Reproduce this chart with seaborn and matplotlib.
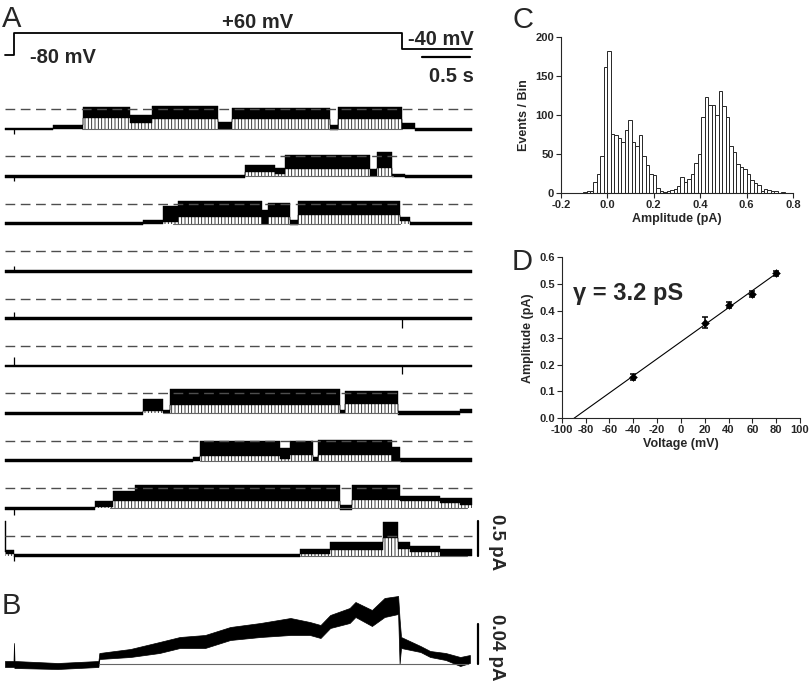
import numpy as np
import pandas as pd
import seaborn as sns
import matplotlib
matplotlib.use("Agg")
from matplotlib import pyplot as plt

# ---------------- data ----------------
# A: voltage protocol (s, mV)
hold_mv, step_mv, tail_mv = -80, 60, -40
step_on, step_off, t_start, t_end = 0.0, 4.0, -0.093, 4.72

# A: single-channel sweeps, each segment = (t start [s], low edge [pA], high edge [pA])
sweep1 = [(-0.093, -0.02, 0.02), (0.40, 0.0, 0.06), (0.71, 0.16, 0.32), (1.20, 0.08, 0.20),
          (1.42, 0.15, 0.33), (2.10, 0.0, 0.10), (2.25, 0.15, 0.30), (3.26, -0.02, 0.06),
          (3.34, 0.15, 0.32), (4.00, 0.0, 0.08), (4.13, -0.03, 0.02)]
sweep2 = [(-0.093, -0.02, 0.02), (2.38, 0.06, 0.17), (2.69, 0.03, 0.12), (2.79, 0.10, 0.30),
          (3.67, 0.0, 0.10), (3.74, 0.12, 0.35), (3.90, -0.01, 0.04), (4.03, -0.02, 0.02)]
sweep3 = [(-0.093, -0.02, 0.02), (1.33, 0.0, 0.06), (1.54, 0.02, 0.25), (1.69, 0.10, 0.33),
          (2.56, 0.0, 0.20), (2.62, 0.10, 0.30), (2.85, -0.02, 0.05), (2.93, 0.12, 0.33),
          (3.98, 0.04, 0.10), (4.08, -0.02, 0.02)]
sweep_flat = [(-0.093, -0.02, 0.02)]
sweep7 = [(-0.093, -0.02, 0.02), (1.33, 0.04, 0.20), (1.54, 0.0, 0.05), (1.61, 0.12, 0.35),
          (3.36, 0.0, 0.05), (3.41, 0.14, 0.32), (3.96, -0.02, 0.03), (4.60, 0.0, 0.06)]
sweep8 = [(-0.093, -0.02, 0.02), (1.85, 0.0, 0.06), (1.92, 0.07, 0.28), (2.74, 0.03, 0.18),
          (2.85, 0.08, 0.28), (3.08, 0.0, 0.06), (3.13, 0.08, 0.30), (3.90, 0.0, 0.20),
          (3.98, -0.01, 0.04)]
sweep9 = [(-0.093, -0.02, 0.02), (0.84, 0.02, 0.10), (1.02, 0.10, 0.25), (1.25, 0.10, 0.33),
          (3.36, -0.02, 0.05), (3.48, 0.12, 0.33), (3.98, 0.10, 0.17), (4.39, 0.07, 0.14),
          (4.60, 0.04, 0.15)]
sweep10 = [(-0.093, 0.05, 0.49), (-0.085, 0.03, 0.08), (0.0, -0.02, 0.02), (2.95, 0.02, 0.10),
           (3.26, 0.08, 0.20), (3.80, 0.25, 0.48), (3.96, 0.10, 0.20), (4.08, 0.05, 0.14),
           (4.39, 0.0, 0.09)]
sweeps = [sweep1, sweep2, sweep3, sweep_flat, sweep_flat, sweep_flat,
          sweep7, sweep8, sweep9, sweep10]
open_level = 0.286          # pA, dashed line
spike_on = [-0.07, -0.06, 0, 0.08, 0.10, 0.13, 0, 0, -0.10, -0.08]   # transient at step on
spike_off = [0, 0, 0, 0, -0.13, -0.11, 0, 0, 0, 0]                   # transient at step off
closed_line = [(0.70, 4.0), (2.38, 3.91), (1.64, 3.98), None, None, None,
               (1.54, 3.96), (1.92, 3.98), (0.99, 4.67), (2.95, 4.67)]

# B: ensemble average (t [s], low [pA], high [pA])
avg_t = [-0.093, -0.005, 0.0, 0.005, 0.45, 0.87, 0.88, 1.20, 1.50, 1.71, 1.97, 2.23, 2.54,
         2.85, 3.05, 3.16, 3.26, 3.46, 3.52, 3.69, 3.82, 3.96, 3.975, 3.99, 4.19, 4.29,
         4.45, 4.60, 4.70]
avg_lo = [-0.003, -0.003, -0.003, -0.004, -0.005, -0.003, 0.005, 0.007, 0.011, 0.016, 0.016,
          0.024, 0.027, 0.029, 0.029, 0.026, 0.036, 0.041, 0.047, 0.038, 0.047, 0.050, 0.0,
          0.016, 0.012, 0.007, 0.004, -0.002, 0.001]
avg_hi = [0.003, 0.003, 0.021, 0.003, 0.001, 0.003, 0.011, 0.015, 0.022, 0.027, 0.029,
          0.037, 0.041, 0.046, 0.042, 0.039, 0.049, 0.056, 0.062, 0.054, 0.066, 0.068, 0.045,
          0.027, 0.018, 0.013, 0.011, 0.007, 0.009]

# C: amplitude histogram, bin k covers [0.015k, 0.015(k+1))
bin_width = 0.015
bin_k = np.arange(-7, 51)
bin_counts = [1, 2, 2, 14, 25, 48, 162, 182, 76, 74, 70, 66, 81, 93, 66, 60, 75, 48, 36, 24,
              23, 7, 2, 1, 2, 4, 5, 9, 20, 14, 18, 25, 39, 50, 98, 123, 113, 113, 100, 131,
              111, 98, 60, 52, 37, 33, 31, 25, 17, 13, 10, 3, 5, 4, 2, 3, 0, 1]

# D: I-V relation
voltage = [-40, 20, 40, 60, 80]
amplitude = [0.153, 0.357, 0.421, 0.463, 0.540]
amp_err = [0.011, 0.019, 0.011, 0.012, 0.008]

# ---------------- style ----------------
sns.set_style("ticks")
plt.rcParams["font.family"] = ["Liberation Sans", "DejaVu Sans"]
plt.rcParams["axes.unicode_minus"] = False
plt.rcParams["hatch.linewidth"] = 0.6

W, H = 812, 687
fig = plt.figure(figsize=(W / 100, H / 100), dpi=100)


def px_axes(x0, y0, x1, y1):
    return fig.add_axes([x0 / W, 1 - y1 / H, (x1 - x0) / W, (y1 - y0) / H])


px_per_s = 97.0
x_zero = 14.0
tlim = ((3 - x_zero) / px_per_s, (474 - x_zero) / px_per_s)

# ---------------- A: protocol ----------------
axP = px_axes(3, 10, 474, 90)
prot_t = [t_start, step_on, step_on, step_off, step_off, t_end]
prot_v = [hold_mv, hold_mv, step_mv, step_mv, tail_mv, tail_mv]
axP.plot(prot_t, prot_v, color="k", lw=1.3)
axP.plot([4.206, 4.206 + 0.5], [-91, -91], color="k", lw=1.6)   # 0.5 s bar
axP.set_xlim(*tlim)
axP.set_ylim(-305.8, 210.3)
axP.axis("off")
fig.text(258 / W, 1 - 28 / H, "+60 mV", ha="center", va="baseline", fontsize=14.5, fontweight="bold")
fig.text(30 / W, 1 - 63 / H, "-80 mV", ha="left", va="baseline", fontsize=14.5, fontweight="bold")
fig.text(474 / W, 1 - 45 / H, "-40 mV", ha="right", va="baseline", fontsize=14.5, fontweight="bold")
fig.text(474 / W, 1 - 82 / H, "0.5 s", ha="right", va="baseline", fontsize=14.5, fontweight="bold")

# ---------------- A: sweeps ----------------
axA = px_axes(3, 90, 474, 572)
spacing = 47.4 / 70
for i, segs in enumerate(sweeps):
    base = -i * spacing
    t = np.array([s[0] for s in segs] + [t_end])
    lo = np.array([s[1] for s in segs] + [segs[-1][1]])
    hi = np.array([s[2] for s in segs] + [segs[-1][2]])
    axA.plot([t_start, t_end], [base + open_level] * 2, color="0.3", lw=1.0,
             dashes=(7, 4))
    if closed_line[i] is not None:
        axA.plot(closed_line[i], [base, base], color="0.4", lw=0.8)
    # flickery closures between closed level and the open band
    axA.fill_between(t, base, base + np.clip(lo, 0, None), step="post",
                     facecolor="none", edgecolor="0.1", hatch="|||||", lw=0)
    axA.fill_between(t, base + lo, base + hi, step="post", color="k", lw=0.3,
                     edgecolor="k")
    if spike_on[i]:
        axA.vlines(step_on, base, base + spike_on[i], color="k", lw=0.9)
    if spike_off[i]:
        axA.vlines(step_off, base, base + spike_off[i], color="k", lw=0.9)
last_base = -(len(sweeps) - 1) * spacing
sb_t = (478 - x_zero) / px_per_s
axA.plot([sb_t, sb_t], [last_base, last_base + 0.5], color="k", lw=1.6, clip_on=False)
axA.text((496 - x_zero) / px_per_s, -(542 - 129) / 70, "0.5 pA", rotation=270,
         ha="center", va="center", fontsize=13.5, fontweight="bold", clip_on=False)
axA.set_xlim(*tlim)
axA.set_ylim(-(572 - 129) / 70, (129 - 90) / 70)
axA.axis("off")

# ---------------- B: average ----------------
axB = px_axes(3, 585, 474, 687)
axB.plot([0.88, 4.68], [0, 0], color="0.4", lw=0.8)
axB.fill_between(avg_t, avg_lo, avg_hi, color="k", lw=0.5, edgecolor="k")
axB.plot([sb_t, sb_t], [0, 0.04], color="k", lw=1.6, clip_on=False)
axB.text((496 - x_zero) / px_per_s, 0.017, "0.04 pA", rotation=270,
         ha="center", va="center", fontsize=13.5, fontweight="bold", clip_on=False)
axB.set_xlim(*tlim)
axB.set_ylim(-0.023, 0.079)
axB.axis("off")

# ---------------- C: histogram ----------------
axC = px_axes(561, 37, 793, 193)
hist_df = pd.DataFrame({"amp": bin_k * bin_width + bin_width / 2, "n": bin_counts})
sns.histplot(data=hist_df, x="amp", weights="n", binwidth=bin_width,
             binrange=(bin_k[0] * bin_width, (bin_k[-1] + 1) * bin_width),
             color="white", edgecolor="0.15", linewidth=0.7, alpha=1, ax=axC)
axC.set_xlim(-0.2, 0.8)
axC.set_ylim(0, 200)
axC.set_xticks(np.arange(-0.2, 0.81, 0.2))
axC.set_xticklabels([f"{v:.1f}" for v in np.arange(-0.2, 0.81, 0.2)])
axC.set_yticks(range(0, 201, 50))
axC.set_xlabel("Amplitude (pA)", fontsize=9, fontweight="bold", labelpad=2)
axC.set_ylabel("Events / Bin", fontsize=9, fontweight="bold", labelpad=4)

# ---------------- D: I-V ----------------
axD = px_axes(561.7, 257.3, 800, 418.3)
slope, icpt = np.polyfit(voltage, amplitude, 1)
x_rev = -icpt / slope
fit_x = np.array([x_rev, max(voltage)])
sns.lineplot(x=fit_x, y=slope * fit_x + icpt, color="k", lw=0.8, ax=axD)
axD.errorbar(voltage, amplitude, yerr=amp_err, fmt="none", ecolor="k", elinewidth=1.1,
             capsize=2.2, capthick=1.1)
sns.scatterplot(x=voltage, y=amplitude, color="k", s=16, marker="D", edgecolor="k", ax=axD)
axD.set_xlim(-100, 100)
axD.set_ylim(0, 0.6)
axD.set_xticks(range(-100, 101, 20))
axD.set_yticks(np.arange(0, 0.61, 0.1))
axD.set_yticklabels([f"{v:.1f}" for v in np.arange(0, 0.61, 0.1)])
axD.set_xlabel("Voltage (mV)", fontsize=9, fontweight="bold", labelpad=2)
axD.set_ylabel("Amplitude (pA)", fontsize=9, fontweight="bold", labelpad=4)
axD.text(0.047, 0.735, "\u03b3 = 3.2 pS", transform=axD.transAxes, ha="left",
         va="baseline", fontsize=17, fontweight="bold")

for ax in (axC, axD):
    sns.despine(ax=ax)
    ax.tick_params(direction="out", length=3.5, width=0.8, labelsize=8, pad=1.5)
    for lab in ax.get_xticklabels() + ax.get_yticklabels():
        lab.set_fontweight("bold")
    for sp in ("left", "bottom"):
        ax.spines[sp].set_linewidth(0.8)

# panel letters
for letter, x, y in [("A", 2, 27), ("B", 2, 614), ("C", 513, 28), ("D", 512, 270)]:
    fig.text(x / W, 1 - y / H, letter, ha="left", va="baseline", fontsize=21)

fig.savefig("out.png", dpi=100)
